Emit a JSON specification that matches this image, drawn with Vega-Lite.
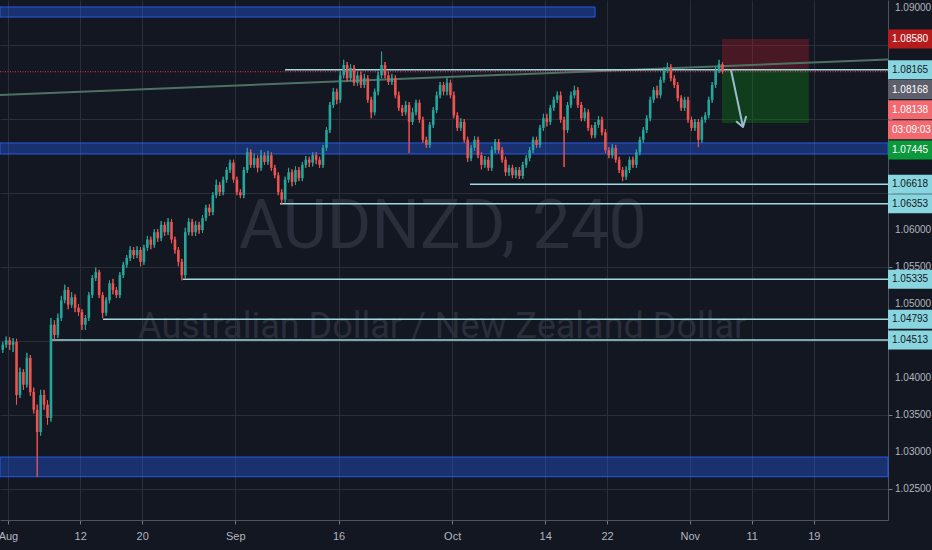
{
  "$schema": "https://vega.github.io/schema/vega-lite/v6.json",
  "width": 888,
  "height": 520,
  "autosize": {"type": "none"},
  "padding": {"left": 0, "top": 0, "right": 44, "bottom": 30},
  "background": "#131722",
  "config": {
    "view": {"stroke": null},
    "axis": {
      "labelFont": "Liberation Sans",
      "labelColor": "#b2b5be",
      "labelFontSize": 10,
      "labelOverlap": false,
      "labelFlush": false,
      "gridColor": "#2a2e39",
      "gridOpacity": 1,
      "domainColor": "#50535e",
      "tickColor": "#787b86",
      "tickSize": 4
    }
  },
  "datasets": {
    "candles": [
      {"n":-2,"o":1.0438,"h":1.0449,"l":1.0434,"c":1.0445},
      {"n":-1,"o":1.0445,"h":1.0456,"l":1.0441,"c":1.0451},
      {"n":0,"o":1.0451,"h":1.0455,"l":1.0438,"c":1.0445},
      {"n":1,"o":1.0445,"h":1.0454,"l":1.0435,"c":1.0449},
      {"n":2,"o":1.0449,"h":1.0453,"l":1.0364,"c":1.0377},
      {"n":3,"o":1.0377,"h":1.0414,"l":1.0373,"c":1.0408},
      {"n":4,"o":1.0408,"h":1.0412,"l":1.0384,"c":1.0391},
      {"n":5,"o":1.0391,"h":1.0434,"l":1.0387,"c":1.0427},
      {"n":6,"o":1.0427,"h":1.0431,"l":1.0376,"c":1.0381},
      {"n":7,"o":1.0381,"h":1.0387,"l":1.0352,"c":1.0357},
      {"n":8,"o":1.0357,"h":1.0364,"l":1.0266,"c":1.0327},
      {"n":9,"o":1.0327,"h":1.0384,"l":1.0322,"c":1.0377},
      {"n":10,"o":1.0377,"h":1.0384,"l":1.0357,"c":1.0364},
      {"n":11,"o":1.0364,"h":1.0370,"l":1.0337,"c":1.0346},
      {"n":12,"o":1.0346,"h":1.0481,"l":1.0341,"c":1.0472},
      {"n":13,"o":1.0472,"h":1.0478,"l":1.0451,"c":1.0458},
      {"n":14,"o":1.0458,"h":1.0487,"l":1.0454,"c":1.0481},
      {"n":15,"o":1.0481,"h":1.0511,"l":1.0477,"c":1.0505},
      {"n":16,"o":1.0505,"h":1.0526,"l":1.0501,"c":1.0519},
      {"n":17,"o":1.0519,"h":1.0523,"l":1.0493,"c":1.0499},
      {"n":18,"o":1.0499,"h":1.0516,"l":1.0495,"c":1.0509},
      {"n":19,"o":1.0509,"h":1.0513,"l":1.0489,"c":1.0495},
      {"n":20,"o":1.0495,"h":1.0500,"l":1.0484,"c":1.0489},
      {"n":21,"o":1.0489,"h":1.0493,"l":1.0465,"c":1.0472},
      {"n":22,"o":1.0472,"h":1.0485,"l":1.0465,"c":1.0481},
      {"n":23,"o":1.0481,"h":1.0516,"l":1.0477,"c":1.0512},
      {"n":24,"o":1.0512,"h":1.0539,"l":1.0508,"c":1.0535},
      {"n":25,"o":1.0535,"h":1.0549,"l":1.0531,"c":1.0543},
      {"n":26,"o":1.0543,"h":1.0546,"l":1.0508,"c":1.0512},
      {"n":27,"o":1.0512,"h":1.0516,"l":1.0481,"c":1.0488},
      {"n":28,"o":1.0488,"h":1.0509,"l":1.0484,"c":1.0505},
      {"n":29,"o":1.0505,"h":1.0532,"l":1.0501,"c":1.0528},
      {"n":30,"o":1.0528,"h":1.0534,"l":1.0513,"c":1.0519},
      {"n":31,"o":1.0519,"h":1.0523,"l":1.0508,"c":1.0512},
      {"n":32,"o":1.0512,"h":1.0543,"l":1.0508,"c":1.0539},
      {"n":33,"o":1.0539,"h":1.0557,"l":1.0535,"c":1.0553},
      {"n":34,"o":1.0553,"h":1.0566,"l":1.0549,"c":1.0562},
      {"n":35,"o":1.0562,"h":1.0578,"l":1.0558,"c":1.0573},
      {"n":36,"o":1.0573,"h":1.0577,"l":1.0561,"c":1.0566},
      {"n":37,"o":1.0566,"h":1.0578,"l":1.0562,"c":1.0573},
      {"n":38,"o":1.0573,"h":1.0577,"l":1.0551,"c":1.0557},
      {"n":39,"o":1.0557,"h":1.0580,"l":1.0553,"c":1.0576},
      {"n":40,"o":1.0576,"h":1.0592,"l":1.0572,"c":1.0587},
      {"n":41,"o":1.0587,"h":1.0591,"l":1.0574,"c":1.0580},
      {"n":42,"o":1.0580,"h":1.0601,"l":1.0576,"c":1.0597},
      {"n":43,"o":1.0597,"h":1.0601,"l":1.0584,"c":1.0589},
      {"n":44,"o":1.0589,"h":1.0612,"l":1.0585,"c":1.0607},
      {"n":45,"o":1.0607,"h":1.0611,"l":1.0592,"c":1.0597},
      {"n":46,"o":1.0597,"h":1.0616,"l":1.0593,"c":1.0611},
      {"n":47,"o":1.0611,"h":1.0615,"l":1.0582,"c":1.0587},
      {"n":48,"o":1.0587,"h":1.0591,"l":1.0568,"c":1.0573},
      {"n":49,"o":1.0573,"h":1.0577,"l":1.0551,"c":1.0557},
      {"n":50,"o":1.0557,"h":1.0561,"l":1.0532,"c":1.0539},
      {"n":51,"o":1.0539,"h":1.0603,"l":1.0535,"c":1.0597},
      {"n":52,"o":1.0597,"h":1.0616,"l":1.0593,"c":1.0611},
      {"n":53,"o":1.0611,"h":1.0615,"l":1.0592,"c":1.0597},
      {"n":54,"o":1.0597,"h":1.0612,"l":1.0592,"c":1.0607},
      {"n":55,"o":1.0607,"h":1.0611,"l":1.0595,"c":1.0600},
      {"n":56,"o":1.0600,"h":1.0620,"l":1.0596,"c":1.0616},
      {"n":57,"o":1.0616,"h":1.0634,"l":1.0612,"c":1.0630},
      {"n":58,"o":1.0630,"h":1.0635,"l":1.0619,"c":1.0624},
      {"n":59,"o":1.0624,"h":1.0651,"l":1.0620,"c":1.0647},
      {"n":60,"o":1.0647,"h":1.0668,"l":1.0643,"c":1.0661},
      {"n":61,"o":1.0661,"h":1.0665,"l":1.0646,"c":1.0651},
      {"n":62,"o":1.0651,"h":1.0672,"l":1.0647,"c":1.0668},
      {"n":63,"o":1.0668,"h":1.0685,"l":1.0664,"c":1.0681},
      {"n":64,"o":1.0681,"h":1.0695,"l":1.0677,"c":1.0691},
      {"n":65,"o":1.0691,"h":1.0695,"l":1.0664,"c":1.0668},
      {"n":66,"o":1.0668,"h":1.0672,"l":1.0647,"c":1.0651},
      {"n":67,"o":1.0651,"h":1.0655,"l":1.0643,"c":1.0647},
      {"n":68,"o":1.0647,"h":1.0685,"l":1.0643,"c":1.0681},
      {"n":69,"o":1.0681,"h":1.0711,"l":1.0677,"c":1.0705},
      {"n":70,"o":1.0705,"h":1.0709,"l":1.0684,"c":1.0688},
      {"n":71,"o":1.0688,"h":1.0703,"l":1.0684,"c":1.0697},
      {"n":72,"o":1.0697,"h":1.0701,"l":1.0678,"c":1.0684},
      {"n":73,"o":1.0684,"h":1.0708,"l":1.0680,"c":1.0701},
      {"n":74,"o":1.0701,"h":1.0705,"l":1.0688,"c":1.0692},
      {"n":75,"o":1.0692,"h":1.0707,"l":1.0688,"c":1.0701},
      {"n":76,"o":1.0701,"h":1.0705,"l":1.0680,"c":1.0684},
      {"n":77,"o":1.0684,"h":1.0688,"l":1.0670,"c":1.0674},
      {"n":78,"o":1.0674,"h":1.0678,"l":1.0647,"c":1.0651},
      {"n":79,"o":1.0651,"h":1.0655,"l":1.0635,"c":1.0641},
      {"n":80,"o":1.0641,"h":1.0672,"l":1.0637,"c":1.0668},
      {"n":81,"o":1.0668,"h":1.0684,"l":1.0664,"c":1.0678},
      {"n":82,"o":1.0678,"h":1.0682,"l":1.0659,"c":1.0665},
      {"n":83,"o":1.0665,"h":1.0686,"l":1.0661,"c":1.0681},
      {"n":84,"o":1.0681,"h":1.0685,"l":1.0666,"c":1.0670},
      {"n":85,"o":1.0670,"h":1.0692,"l":1.0666,"c":1.0688},
      {"n":86,"o":1.0688,"h":1.0700,"l":1.0684,"c":1.0695},
      {"n":87,"o":1.0695,"h":1.0699,"l":1.0685,"c":1.0691},
      {"n":88,"o":1.0691,"h":1.0705,"l":1.0686,"c":1.0701},
      {"n":89,"o":1.0701,"h":1.0705,"l":1.0689,"c":1.0695},
      {"n":90,"o":1.0695,"h":1.0699,"l":1.0684,"c":1.0688},
      {"n":91,"o":1.0688,"h":1.0715,"l":1.0684,"c":1.0711},
      {"n":92,"o":1.0711,"h":1.0739,"l":1.0707,"c":1.0735},
      {"n":93,"o":1.0735,"h":1.0773,"l":1.0731,"c":1.0769},
      {"n":94,"o":1.0769,"h":1.0792,"l":1.0765,"c":1.0787},
      {"n":95,"o":1.0787,"h":1.0791,"l":1.0770,"c":1.0776},
      {"n":96,"o":1.0776,"h":1.0814,"l":1.0772,"c":1.0809},
      {"n":97,"o":1.0809,"h":1.0830,"l":1.0805,"c":1.0823},
      {"n":98,"o":1.0823,"h":1.0827,"l":1.0800,"c":1.0805},
      {"n":99,"o":1.0805,"h":1.0824,"l":1.0801,"c":1.0819},
      {"n":100,"o":1.0819,"h":1.0823,"l":1.0795,"c":1.0799},
      {"n":101,"o":1.0799,"h":1.0814,"l":1.0795,"c":1.0809},
      {"n":102,"o":1.0809,"h":1.0814,"l":1.0792,"c":1.0796},
      {"n":103,"o":1.0796,"h":1.0811,"l":1.0792,"c":1.0805},
      {"n":104,"o":1.0805,"h":1.0809,"l":1.0772,"c":1.0776},
      {"n":105,"o":1.0776,"h":1.0780,"l":1.0751,"c":1.0759},
      {"n":106,"o":1.0759,"h":1.0791,"l":1.0755,"c":1.0787},
      {"n":107,"o":1.0787,"h":1.0814,"l":1.0782,"c":1.0809},
      {"n":108,"o":1.0809,"h":1.0841,"l":1.0805,"c":1.0823},
      {"n":109,"o":1.0823,"h":1.0827,"l":1.0805,"c":1.0809},
      {"n":110,"o":1.0809,"h":1.0814,"l":1.0796,"c":1.0800},
      {"n":111,"o":1.0800,"h":1.0811,"l":1.0796,"c":1.0805},
      {"n":112,"o":1.0805,"h":1.0809,"l":1.0778,"c":1.0782},
      {"n":113,"o":1.0782,"h":1.0787,"l":1.0761,"c":1.0765},
      {"n":114,"o":1.0765,"h":1.0769,"l":1.0754,"c":1.0759},
      {"n":115,"o":1.0759,"h":1.0774,"l":1.0755,"c":1.0769},
      {"n":116,"o":1.0769,"h":1.0773,"l":1.0704,"c":1.0746},
      {"n":117,"o":1.0746,"h":1.0765,"l":1.0742,"c":1.0759},
      {"n":118,"o":1.0759,"h":1.0776,"l":1.0755,"c":1.0772},
      {"n":119,"o":1.0772,"h":1.0776,"l":1.0745,"c":1.0749},
      {"n":120,"o":1.0749,"h":1.0753,"l":1.0718,"c":1.0722},
      {"n":121,"o":1.0722,"h":1.0726,"l":1.0711,"c":1.0715},
      {"n":122,"o":1.0715,"h":1.0746,"l":1.0711,"c":1.0742},
      {"n":123,"o":1.0742,"h":1.0766,"l":1.0738,"c":1.0762},
      {"n":124,"o":1.0762,"h":1.0787,"l":1.0758,"c":1.0782},
      {"n":125,"o":1.0782,"h":1.0800,"l":1.0778,"c":1.0796},
      {"n":126,"o":1.0796,"h":1.0800,"l":1.0782,"c":1.0787},
      {"n":127,"o":1.0787,"h":1.0805,"l":1.0782,"c":1.0799},
      {"n":128,"o":1.0799,"h":1.0803,"l":1.0778,"c":1.0782},
      {"n":129,"o":1.0782,"h":1.0787,"l":1.0751,"c":1.0755},
      {"n":130,"o":1.0755,"h":1.0759,"l":1.0734,"c":1.0738},
      {"n":131,"o":1.0738,"h":1.0751,"l":1.0734,"c":1.0746},
      {"n":132,"o":1.0746,"h":1.0750,"l":1.0718,"c":1.0722},
      {"n":133,"o":1.0722,"h":1.0726,"l":1.0692,"c":1.0697},
      {"n":134,"o":1.0697,"h":1.0715,"l":1.0693,"c":1.0711},
      {"n":135,"o":1.0711,"h":1.0727,"l":1.0707,"c":1.0722},
      {"n":136,"o":1.0722,"h":1.0726,"l":1.0697,"c":1.0701},
      {"n":137,"o":1.0701,"h":1.0705,"l":1.0682,"c":1.0688},
      {"n":138,"o":1.0688,"h":1.0700,"l":1.0684,"c":1.0695},
      {"n":139,"o":1.0695,"h":1.0699,"l":1.0680,"c":1.0684},
      {"n":140,"o":1.0684,"h":1.0713,"l":1.0680,"c":1.0708},
      {"n":141,"o":1.0708,"h":1.0723,"l":1.0704,"c":1.0719},
      {"n":142,"o":1.0719,"h":1.0723,"l":1.0704,"c":1.0708},
      {"n":143,"o":1.0708,"h":1.0712,"l":1.0691,"c":1.0695},
      {"n":144,"o":1.0695,"h":1.0699,"l":1.0673,"c":1.0678},
      {"n":145,"o":1.0678,"h":1.0688,"l":1.0673,"c":1.0684},
      {"n":146,"o":1.0684,"h":1.0688,"l":1.0670,"c":1.0674},
      {"n":147,"o":1.0674,"h":1.0685,"l":1.0670,"c":1.0681},
      {"n":148,"o":1.0681,"h":1.0685,"l":1.0669,"c":1.0673},
      {"n":149,"o":1.0673,"h":1.0692,"l":1.0669,"c":1.0688},
      {"n":150,"o":1.0688,"h":1.0701,"l":1.0684,"c":1.0697},
      {"n":151,"o":1.0697,"h":1.0712,"l":1.0693,"c":1.0708},
      {"n":152,"o":1.0708,"h":1.0726,"l":1.0704,"c":1.0722},
      {"n":153,"o":1.0722,"h":1.0726,"l":1.0711,"c":1.0715},
      {"n":154,"o":1.0715,"h":1.0742,"l":1.0711,"c":1.0738},
      {"n":155,"o":1.0738,"h":1.0757,"l":1.0734,"c":1.0751},
      {"n":156,"o":1.0751,"h":1.0757,"l":1.0740,"c":1.0746},
      {"n":157,"o":1.0746,"h":1.0769,"l":1.0742,"c":1.0765},
      {"n":158,"o":1.0765,"h":1.0780,"l":1.0761,"c":1.0776},
      {"n":159,"o":1.0776,"h":1.0787,"l":1.0772,"c":1.0782},
      {"n":160,"o":1.0782,"h":1.0787,"l":1.0745,"c":1.0749},
      {"n":161,"o":1.0749,"h":1.0753,"l":1.0685,"c":1.0735},
      {"n":162,"o":1.0735,"h":1.0773,"l":1.0731,"c":1.0769},
      {"n":163,"o":1.0769,"h":1.0787,"l":1.0765,"c":1.0782},
      {"n":164,"o":1.0782,"h":1.0795,"l":1.0778,"c":1.0789},
      {"n":165,"o":1.0789,"h":1.0793,"l":1.0765,"c":1.0769},
      {"n":166,"o":1.0769,"h":1.0773,"l":1.0747,"c":1.0751},
      {"n":167,"o":1.0751,"h":1.0765,"l":1.0747,"c":1.0759},
      {"n":168,"o":1.0759,"h":1.0763,"l":1.0734,"c":1.0738},
      {"n":169,"o":1.0738,"h":1.0742,"l":1.0724,"c":1.0728},
      {"n":170,"o":1.0728,"h":1.0746,"l":1.0724,"c":1.0742},
      {"n":171,"o":1.0742,"h":1.0754,"l":1.0738,"c":1.0749},
      {"n":172,"o":1.0749,"h":1.0753,"l":1.0728,"c":1.0732},
      {"n":173,"o":1.0732,"h":1.0736,"l":1.0704,"c":1.0708},
      {"n":174,"o":1.0708,"h":1.0712,"l":1.0697,"c":1.0701},
      {"n":175,"o":1.0701,"h":1.0716,"l":1.0697,"c":1.0711},
      {"n":176,"o":1.0711,"h":1.0715,"l":1.0691,"c":1.0695},
      {"n":177,"o":1.0695,"h":1.0699,"l":1.0677,"c":1.0681},
      {"n":178,"o":1.0681,"h":1.0685,"l":1.0666,"c":1.0672},
      {"n":179,"o":1.0672,"h":1.0686,"l":1.0668,"c":1.0681},
      {"n":180,"o":1.0681,"h":1.0699,"l":1.0677,"c":1.0695},
      {"n":181,"o":1.0695,"h":1.0699,"l":1.0684,"c":1.0688},
      {"n":182,"o":1.0688,"h":1.0709,"l":1.0684,"c":1.0705},
      {"n":183,"o":1.0705,"h":1.0726,"l":1.0701,"c":1.0722},
      {"n":184,"o":1.0722,"h":1.0739,"l":1.0718,"c":1.0735},
      {"n":185,"o":1.0735,"h":1.0755,"l":1.0731,"c":1.0751},
      {"n":186,"o":1.0751,"h":1.0780,"l":1.0747,"c":1.0776},
      {"n":187,"o":1.0776,"h":1.0793,"l":1.0772,"c":1.0789},
      {"n":188,"o":1.0789,"h":1.0795,"l":1.0778,"c":1.0782},
      {"n":189,"o":1.0782,"h":1.0807,"l":1.0778,"c":1.0803},
      {"n":190,"o":1.0803,"h":1.0820,"l":1.0799,"c":1.0816},
      {"n":191,"o":1.0816,"h":1.0826,"l":1.0812,"c":1.0820},
      {"n":192,"o":1.0820,"h":1.0824,"l":1.0801,"c":1.0805},
      {"n":193,"o":1.0805,"h":1.0809,"l":1.0792,"c":1.0796},
      {"n":194,"o":1.0796,"h":1.0800,"l":1.0774,"c":1.0778},
      {"n":195,"o":1.0778,"h":1.0782,"l":1.0761,"c":1.0765},
      {"n":196,"o":1.0765,"h":1.0780,"l":1.0761,"c":1.0776},
      {"n":197,"o":1.0776,"h":1.0780,"l":1.0745,"c":1.0749},
      {"n":198,"o":1.0749,"h":1.0753,"l":1.0734,"c":1.0738},
      {"n":199,"o":1.0738,"h":1.0750,"l":1.0734,"c":1.0746},
      {"n":200,"o":1.0746,"h":1.0750,"l":1.0712,"c":1.0722},
      {"n":201,"o":1.0722,"h":1.0753,"l":1.0718,"c":1.0749},
      {"n":202,"o":1.0749,"h":1.0759,"l":1.0745,"c":1.0755},
      {"n":203,"o":1.0755,"h":1.0780,"l":1.0751,"c":1.0776},
      {"n":204,"o":1.0776,"h":1.0800,"l":1.0772,"c":1.0796},
      {"n":205,"o":1.0796,"h":1.0820,"l":1.0792,"c":1.0816},
      {"n":206,"o":1.0816,"h":1.0830,"l":1.0812,"c":1.0824},
      {"n":207,"o":1.0824,"h":1.0827,"l":1.0811,"c":1.0814}
    ],
    "bands": [
      {"x0": -2.8, "x1": 170.0, "lo": 1.08878, "hi": 1.09014},
      {"x0": -2.8, "x1": 255.06, "lo": 1.07027, "hi": 1.07176},
      {"x0": -2.8, "x1": 255.06, "lo": 1.02666, "hi": 1.02932}
    ],
    "levels": [
      {"from": 79.96, "p": 1.08165},
      {"from": 133.7, "p": 1.06618},
      {"from": 78.5, "p": 1.06353},
      {"from": 50.3, "p": 1.05335},
      {"from": 27.1, "p": 1.04793},
      {"from": 12.3, "p": 1.04513}
    ],
    "position": [
      {"k": "risk", "x0": 206.85, "x1": 232.1, "lo": 1.08168, "hi": 1.0858},
      {"k": "reward", "x0": 206.85, "x1": 232.1, "lo": 1.07445, "hi": 1.08168}
    ],
    "trend": [
      {"x": -2.8, "p": 1.07824},
      {"x": 255.06, "p": 1.08304}
    ],
    "arrow": [
      {"i": 0, "x": 209.47, "p": 1.08162},
      {"i": 1, "x": 212.96, "p": 1.07392},
      {"i": 2, "x": 211.13, "p": 1.07463},
      {"i": 3, "x": 212.96, "p": 1.07392},
      {"i": 4, "x": 213.83, "p": 1.07531}
    ],
    "priceLabels": [
      {"v": 1.025}, {"v": 1.03}, {"v": 1.035}, {"v": 1.04}, {"v": 1.05},
      {"v": 1.055}, {"v": 1.06}, {"v": 1.09}
    ],
    "tags": [
      {"label": "1.08580", "p": 1.0858, "kind": "stop"},
      {"label": "1.08165", "p": 1.08165, "kind": "level"},
      {"label": "1.08168", "p": 1.08168, "kind": "entry"},
      {"label": "1.08138", "p": 1.08138, "kind": "last"},
      {"label": "03:09:03", "p": 1.08138, "kind": "timer"},
      {"label": "1.07445", "p": 1.07445, "kind": "target"},
      {"label": "1.06618", "p": 1.06618, "kind": "level"},
      {"label": "1.06353", "p": 1.06353, "kind": "level"},
      {"label": "1.05335", "p": 1.05335, "kind": "level"},
      {"label": "1.04793", "p": 1.04793, "kind": "level"},
      {"label": "1.04513", "p": 1.04513, "kind": "level"}
    ]
  },
  "layer": [
    {
      "data": {"name": "candles"},
      "mark": {"type": "rule", "strokeWidth": 1},
      "encoding": {
        "x": {
          "field": "n", "type": "quantitative", "title": null,
          "scale": {"domain": [-2.8, 255.06], "nice": false, "zero": false, "padding": 0},
          "axis": {
            "values": [-0.5, 20.5, 38.5, 65.5, 95.5, 128.5, 155.5, 173.5, 197.5, 215.5, 233.5],
            "labelExpr": "datum.value < 0 ? 'Aug' : datum.value < 21 ? '12' : datum.value < 39 ? '20' : datum.value < 66 ? 'Sep' : datum.value < 96 ? '16' : datum.value < 129 ? 'Oct' : datum.value < 156 ? '14' : datum.value < 174 ? '22' : datum.value < 198 ? 'Nov' : datum.value < 216 ? '11' : '19'",
            "labelFontSize": 11,
            "labelPadding": 6,
            "labelOverlap": false,
            "grid": true
          }
        },
        "y": {
          "field": "l", "type": "quantitative", "title": null,
          "scale": {"domain": [1.02081, 1.09108], "nice": false, "zero": false, "padding": 0},
          "axis": {
            "orient": "right",
            "values": [1.025, 1.03, 1.035, 1.04, 1.045, 1.05, 1.055, 1.06, 1.065, 1.07, 1.075, 1.08, 1.085, 1.09],
            "labels": false,
            "grid": true
          }
        },
        "y2": {"field": "h"},
        "color": {"condition": {"test": "datum.c >= datum.o", "value": "#26a69a"}, "value": "#ef5350"}
      }
    },
    {
      "data": {"values": [{}]},
      "mark": {"type": "text", "text": "AUDNZD, 240", "font": "Roboto", "fontSize": 68, "color": "#2a2e3a", "align": "center", "baseline": "alphabetic"},
      "encoding": {
        "x": {"datum": 125.8, "type": "quantitative", "title": null, "scale": {"domain": [-2.8, 255.06], "nice": false, "zero": false, "padding": 0}},
        "y": {"datum": 1.05757, "type": "quantitative", "title": null, "scale": {"domain": [1.02081, 1.09108], "nice": false, "zero": false, "padding": 0}}
      }
    },
    {
      "data": {"values": [{}]},
      "mark": {"type": "text", "text": "Australian Dollar / New Zealand Dollar", "font": "Roboto", "fontSize": 36, "color": "#2a2e3a", "align": "center", "baseline": "alphabetic"},
      "encoding": {
        "x": {"datum": 125.6, "type": "quantitative", "title": null, "scale": {"domain": [-2.8, 255.06], "nice": false, "zero": false, "padding": 0}},
        "y": {"datum": 1.0454, "type": "quantitative", "title": null, "scale": {"domain": [1.02081, 1.09108], "nice": false, "zero": false, "padding": 0}}
      }
    },
    {
      "data": {"name": "bands"},
      "mark": {"type": "rect", "fill": "#2962ff", "fillOpacity": 0.35, "stroke": "#2962ff", "strokeOpacity": 0.85, "strokeWidth": 1},
      "encoding": {
        "x": {"field": "x0", "type": "quantitative", "title": null, "scale": {"domain": [-2.8, 255.06], "nice": false, "zero": false, "padding": 0}},
        "x2": {"field": "x1"},
        "y": {"field": "lo", "type": "quantitative", "title": null, "scale": {"domain": [1.02081, 1.09108], "nice": false, "zero": false, "padding": 0}},
        "y2": {"field": "hi"}
      }
    },
    {
      "data": {"name": "position"},
      "mark": {"type": "rect", "opacity": 0.3},
      "encoding": {
        "x": {"field": "x0", "type": "quantitative", "title": null, "scale": {"domain": [-2.8, 255.06], "nice": false, "zero": false, "padding": 0}},
        "x2": {"field": "x1"},
        "y": {"field": "lo", "type": "quantitative", "title": null, "scale": {"domain": [1.02081, 1.09108], "nice": false, "zero": false, "padding": 0}},
        "y2": {"field": "hi"},
        "color": {"condition": {"test": "datum.k === 'risk'", "value": "#c41e2a"}, "value": "#09960e"}
      }
    },
    {
      "data": {"name": "trend"},
      "mark": {"type": "line", "color": "#4d7263", "strokeWidth": 2},
      "encoding": {
        "x": {"field": "x", "type": "quantitative", "title": null, "scale": {"domain": [-2.8, 255.06], "nice": false, "zero": false, "padding": 0}},
        "y": {"field": "p", "type": "quantitative", "title": null, "scale": {"domain": [1.02081, 1.09108], "nice": false, "zero": false, "padding": 0}}
      }
    },
    {
      "data": {"name": "levels"},
      "mark": {"type": "rule", "color": "#9fd9e2", "strokeWidth": 1.5},
      "encoding": {
        "x": {"field": "from", "type": "quantitative", "title": null, "scale": {"domain": [-2.8, 255.06], "nice": false, "zero": false, "padding": 0}},
        "x2": {"datum": 255.06},
        "y": {"field": "p", "type": "quantitative", "title": null, "scale": {"domain": [1.02081, 1.09108], "nice": false, "zero": false, "padding": 0}}
      }
    },
    {
      "data": {"values": [{}]},
      "mark": {"type": "rule", "color": "#f23645", "strokeWidth": 1, "strokeDash": [1, 1.5]},
      "encoding": {
        "x": {"datum": -2.8, "type": "quantitative", "title": null, "scale": {"domain": [-2.8, 255.06], "nice": false, "zero": false, "padding": 0}},
        "x2": {"datum": 255.06},
        "y": {"datum": 1.08138, "type": "quantitative", "title": null, "scale": {"domain": [1.02081, 1.09108], "nice": false, "zero": false, "padding": 0}}
      }
    },
    {
      "data": {"name": "candles"},
      "mark": {"type": "rule", "strokeWidth": 1},
      "encoding": {
        "x": {"field": "n", "type": "quantitative", "title": null, "scale": {"domain": [-2.8, 255.06], "nice": false, "zero": false, "padding": 0}},
        "y": {"field": "l", "type": "quantitative", "title": null, "scale": {"domain": [1.02081, 1.09108], "nice": false, "zero": false, "padding": 0}},
        "y2": {"field": "h"},
        "color": {"condition": {"test": "datum.c >= datum.o", "value": "#26a69a"}, "value": "#ef5350"}
      }
    },
    {
      "data": {"name": "candles"},
      "mark": {"type": "bar", "width": 2.6, "orient": "vertical"},
      "encoding": {
        "x": {"field": "n", "type": "quantitative", "title": null, "scale": {"domain": [-2.8, 255.06], "nice": false, "zero": false, "padding": 0}},
        "y": {"field": "o", "type": "quantitative", "title": null, "scale": {"domain": [1.02081, 1.09108], "nice": false, "zero": false, "padding": 0}},
        "y2": {"field": "c"},
        "color": {"condition": {"test": "datum.c >= datum.o", "value": "#26a69a"}, "value": "#ef5350"}
      }
    },
    {
      "data": {"name": "arrow"},
      "mark": {"type": "line", "color": "#9cbccc", "strokeWidth": 2, "strokeCap": "round", "strokeJoin": "round"},
      "encoding": {
        "x": {"field": "x", "type": "quantitative", "title": null, "scale": {"domain": [-2.8, 255.06], "nice": false, "zero": false, "padding": 0}},
        "y": {"field": "p", "type": "quantitative", "title": null, "scale": {"domain": [1.02081, 1.09108], "nice": false, "zero": false, "padding": 0}},
        "order": {"field": "i", "type": "quantitative"}
      }
    },
    {
      "data": {"name": "priceLabels"},
      "mark": {"type": "text", "align": "left", "baseline": "middle", "fontSize": 10, "font": "Liberation Sans", "color": "#b2b5be", "xOffset": 7},
      "encoding": {
        "x": {"datum": 255.06, "type": "quantitative", "title": null, "scale": {"domain": [-2.8, 255.06], "nice": false, "zero": false, "padding": 0}},
        "y": {"field": "v", "type": "quantitative", "title": null, "scale": {"domain": [1.02081, 1.09108], "nice": false, "zero": false, "padding": 0}},
        "text": {"field": "v", "type": "quantitative", "format": ".5f"}
      }
    },
    {
      "data": {"name": "tags"},
      "mark": {"type": "tick", "orient": "horizontal", "size": 44, "thickness": 19, "opacity": 1, "xOffset": 22,
        "yOffset": {"expr": "datum.kind === 'entry' ? 20 : datum.kind === 'last' ? 38 : datum.kind === 'timer' ? 58 : datum.kind === 'target' ? 27 : 0"}},
      "encoding": {
        "x": {"datum": 255.06, "type": "quantitative", "title": null, "scale": {"domain": [-2.8, 255.06], "nice": false, "zero": false, "padding": 0}},
        "y": {"field": "p", "type": "quantitative", "title": null, "scale": {"domain": [1.02081, 1.09108], "nice": false, "zero": false, "padding": 0}},
        "color": {
          "condition": [
            {"test": "datum.kind === 'stop'", "value": "#b71c1c"},
            {"test": "datum.kind === 'entry'", "value": "#5d606b"},
            {"test": "datum.kind === 'last'", "value": "#f26a70"},
            {"test": "datum.kind === 'timer'", "value": "#f26a70"},
            {"test": "datum.kind === 'target'", "value": "#0a9a3c"}
          ],
          "value": "#8ad6e0"
        }
      }
    },
    {
      "data": {"name": "tags"},
      "mark": {"type": "text", "align": "left", "baseline": "middle", "fontSize": 10, "font": "Liberation Sans", "xOffset": 4,
        "yOffset": {"expr": "datum.kind === 'entry' ? 20 : datum.kind === 'last' ? 38 : datum.kind === 'timer' ? 58 : datum.kind === 'target' ? 27 : 0"}},
      "encoding": {
        "x": {"datum": 255.06, "type": "quantitative", "title": null, "scale": {"domain": [-2.8, 255.06], "nice": false, "zero": false, "padding": 0}},
        "y": {"field": "p", "type": "quantitative", "title": null, "scale": {"domain": [1.02081, 1.09108], "nice": false, "zero": false, "padding": 0}},
        "text": {"field": "label"},
        "color": {"condition": {"test": "datum.kind === 'level'", "value": "#131722"}, "value": "#ffffff"}
      }
    }
  ]
}
